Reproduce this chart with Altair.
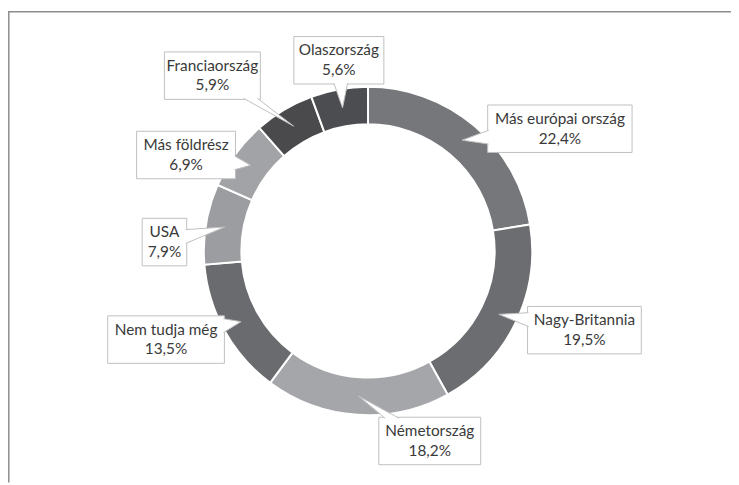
import math
import altair as alt
import pandas as pd

# ---- data ----
categories = ["Más európai ország", "Nagy-Britannia", "Németország", "Nem tudja még",
              "USA", "Más földrész", "Franciaország", "Olaszország"]
values = [22.4, 19.5, 18.2, 13.5, 7.9, 6.9, 5.9, 5.6]

# ---- style / layout ----
colors = ["#76777b", "#6c6d71", "#a5a6a9", "#6a6b6f", "#9c9da0", "#a2a3a6", "#4a4a4d", "#4c4d50"]
label_angle_deg = [57.5, 110.1, 162.0, 246.3, 272.5, 297.8, 318.4, 351.3]
label_dist = [230, 233, 202, 223, 206, 208, 237, 195]
box_width = [146, 115, 103, 118, 45, 100, 97, 91]
BOX_H = 48
CX, CY = 372, 251          # donut centre (page pixels)
R_IN, R_OUT = 128, 166
W, H = 731, 477
BORDER = "#bfbfbf"
TEXT = "#3a3a3a"
FONT = "Lato"
FS = 15.5

total = sum(values)
pct_text = [f"{v:.1f}".replace(".", ",") + "%" for v in values]

df = pd.DataFrame({"cat": categories, "value": values, "idx": range(len(values))})

# boxes and callout pointers
box_rows, ptr_rows = [], []
cum = 0.0
for i, (c, v) in enumerate(zip(categories, values)):
    mid = (cum + v / 2) / total * 2 * math.pi
    cum += v
    rm = (R_IN + R_OUT) / 2
    tx, ty = CX + rm * math.sin(mid), CY - rm * math.cos(mid)
    a = math.radians(label_angle_deg[i])
    bx, by = CX + label_dist[i] * math.sin(a), CY - label_dist[i] * math.cos(a)
    hw, hh = box_width[i] / 2, BOX_H / 2
    box_rows.append({"cat": c, "x1": bx - hw, "x2": bx + hw, "y1": by - hh, "y2": by + hh,
                     "cx": bx, "cy": by, "name": c, "pct": pct_text[i]})
    vx, vy = tx - bx, ty - by
    half = 7
    if abs(vx) / hw > abs(vy) / hh:
        t = hw / abs(vx)
        ex = bx + math.copysign(hw - 1, vx)
        ey = min(max(by + vy * t, by - hh + half + 2), by + hh - half - 2)
        p1, p2 = (ex, ey - half), (ex, ey + half)
    else:
        t = hh / abs(vy)
        ey = by + math.copysign(hh - 1, vy)
        ex = min(max(bx + vx * t, bx - hw + half + 2), bx + hw - half - 2)
        p1, p2 = (ex - half, ey), (ex + half, ey)
    for k, (px, py) in enumerate([p1, (tx, ty), p2]):
        ptr_rows.append({"cat": c, "ord": k, "px": px, "py": py})

boxes = pd.DataFrame(box_rows)
ptrs = pd.DataFrame(ptr_rows)

xs = alt.Scale(domain=[8, 8 + W], nice=False, zero=False)
ys = alt.Scale(domain=[8, 8 + H], nice=False, zero=False, reverse=True)

donut = alt.Chart(df).mark_arc(innerRadius=R_IN, outerRadius=R_OUT, stroke="white",
                               strokeWidth=2).encode(
    theta=alt.Theta("value:Q", stack=True),
    order=alt.Order("idx:Q"),
    color=alt.Color("cat:N", scale=alt.Scale(domain=categories, range=colors), legend=None),
    x=alt.value(CX - 8),
    y=alt.value(CY - 8),
)

rects = alt.Chart(boxes).mark_rect(fill="white", stroke=BORDER, strokeWidth=1).encode(
    x=alt.X("x1:Q", scale=xs, axis=None),
    x2="x2:Q",
    y=alt.Y("y1:Q", scale=ys, axis=None),
    y2="y2:Q",
)

pointers = alt.Chart(ptrs).mark_line(fill="white", stroke=BORDER, strokeWidth=1,
                                     interpolate="linear").encode(
    x=alt.X("px:Q", scale=xs, axis=None),
    y=alt.Y("py:Q", scale=ys, axis=None),
    order="ord:Q",
    detail="cat:N",
)

name_txt = alt.Chart(boxes).mark_text(font=FONT, fontSize=FS, color=TEXT, dy=-10,
                                      baseline="middle").encode(
    x=alt.X("cx:Q", scale=xs, axis=None),
    y=alt.Y("cy:Q", scale=ys, axis=None),
    text="name:N",
)
pct_txt = alt.Chart(boxes).mark_text(font=FONT, fontSize=FS, color=TEXT, dy=10,
                                     baseline="middle").encode(
    x=alt.X("cx:Q", scale=xs, axis=None),
    y=alt.Y("cy:Q", scale=ys, axis=None),
    text="pct:N",
)

one = pd.DataFrame({"k": [0]})
frame_top = alt.Chart(one).mark_rule(color="#8c8c8c", strokeWidth=1.5).encode(
    x=alt.value(0), x2=alt.value(W), y=alt.value(1.2))
frame_left = alt.Chart(one).mark_rule(color="#8c8c8c", strokeWidth=1.5).encode(
    x=alt.value(0.8), y=alt.value(1), y2=alt.value(H))

chart = alt.layer(frame_top, frame_left, donut, rects, pointers, name_txt, pct_txt).properties(
    width=W, height=H, padding=0, autosize=alt.AutoSizeParams(type="none"),
    background="white",
).configure_view(stroke=None)

chart.save("out.html", embed_options={"renderer": "svg", "actions": False})
